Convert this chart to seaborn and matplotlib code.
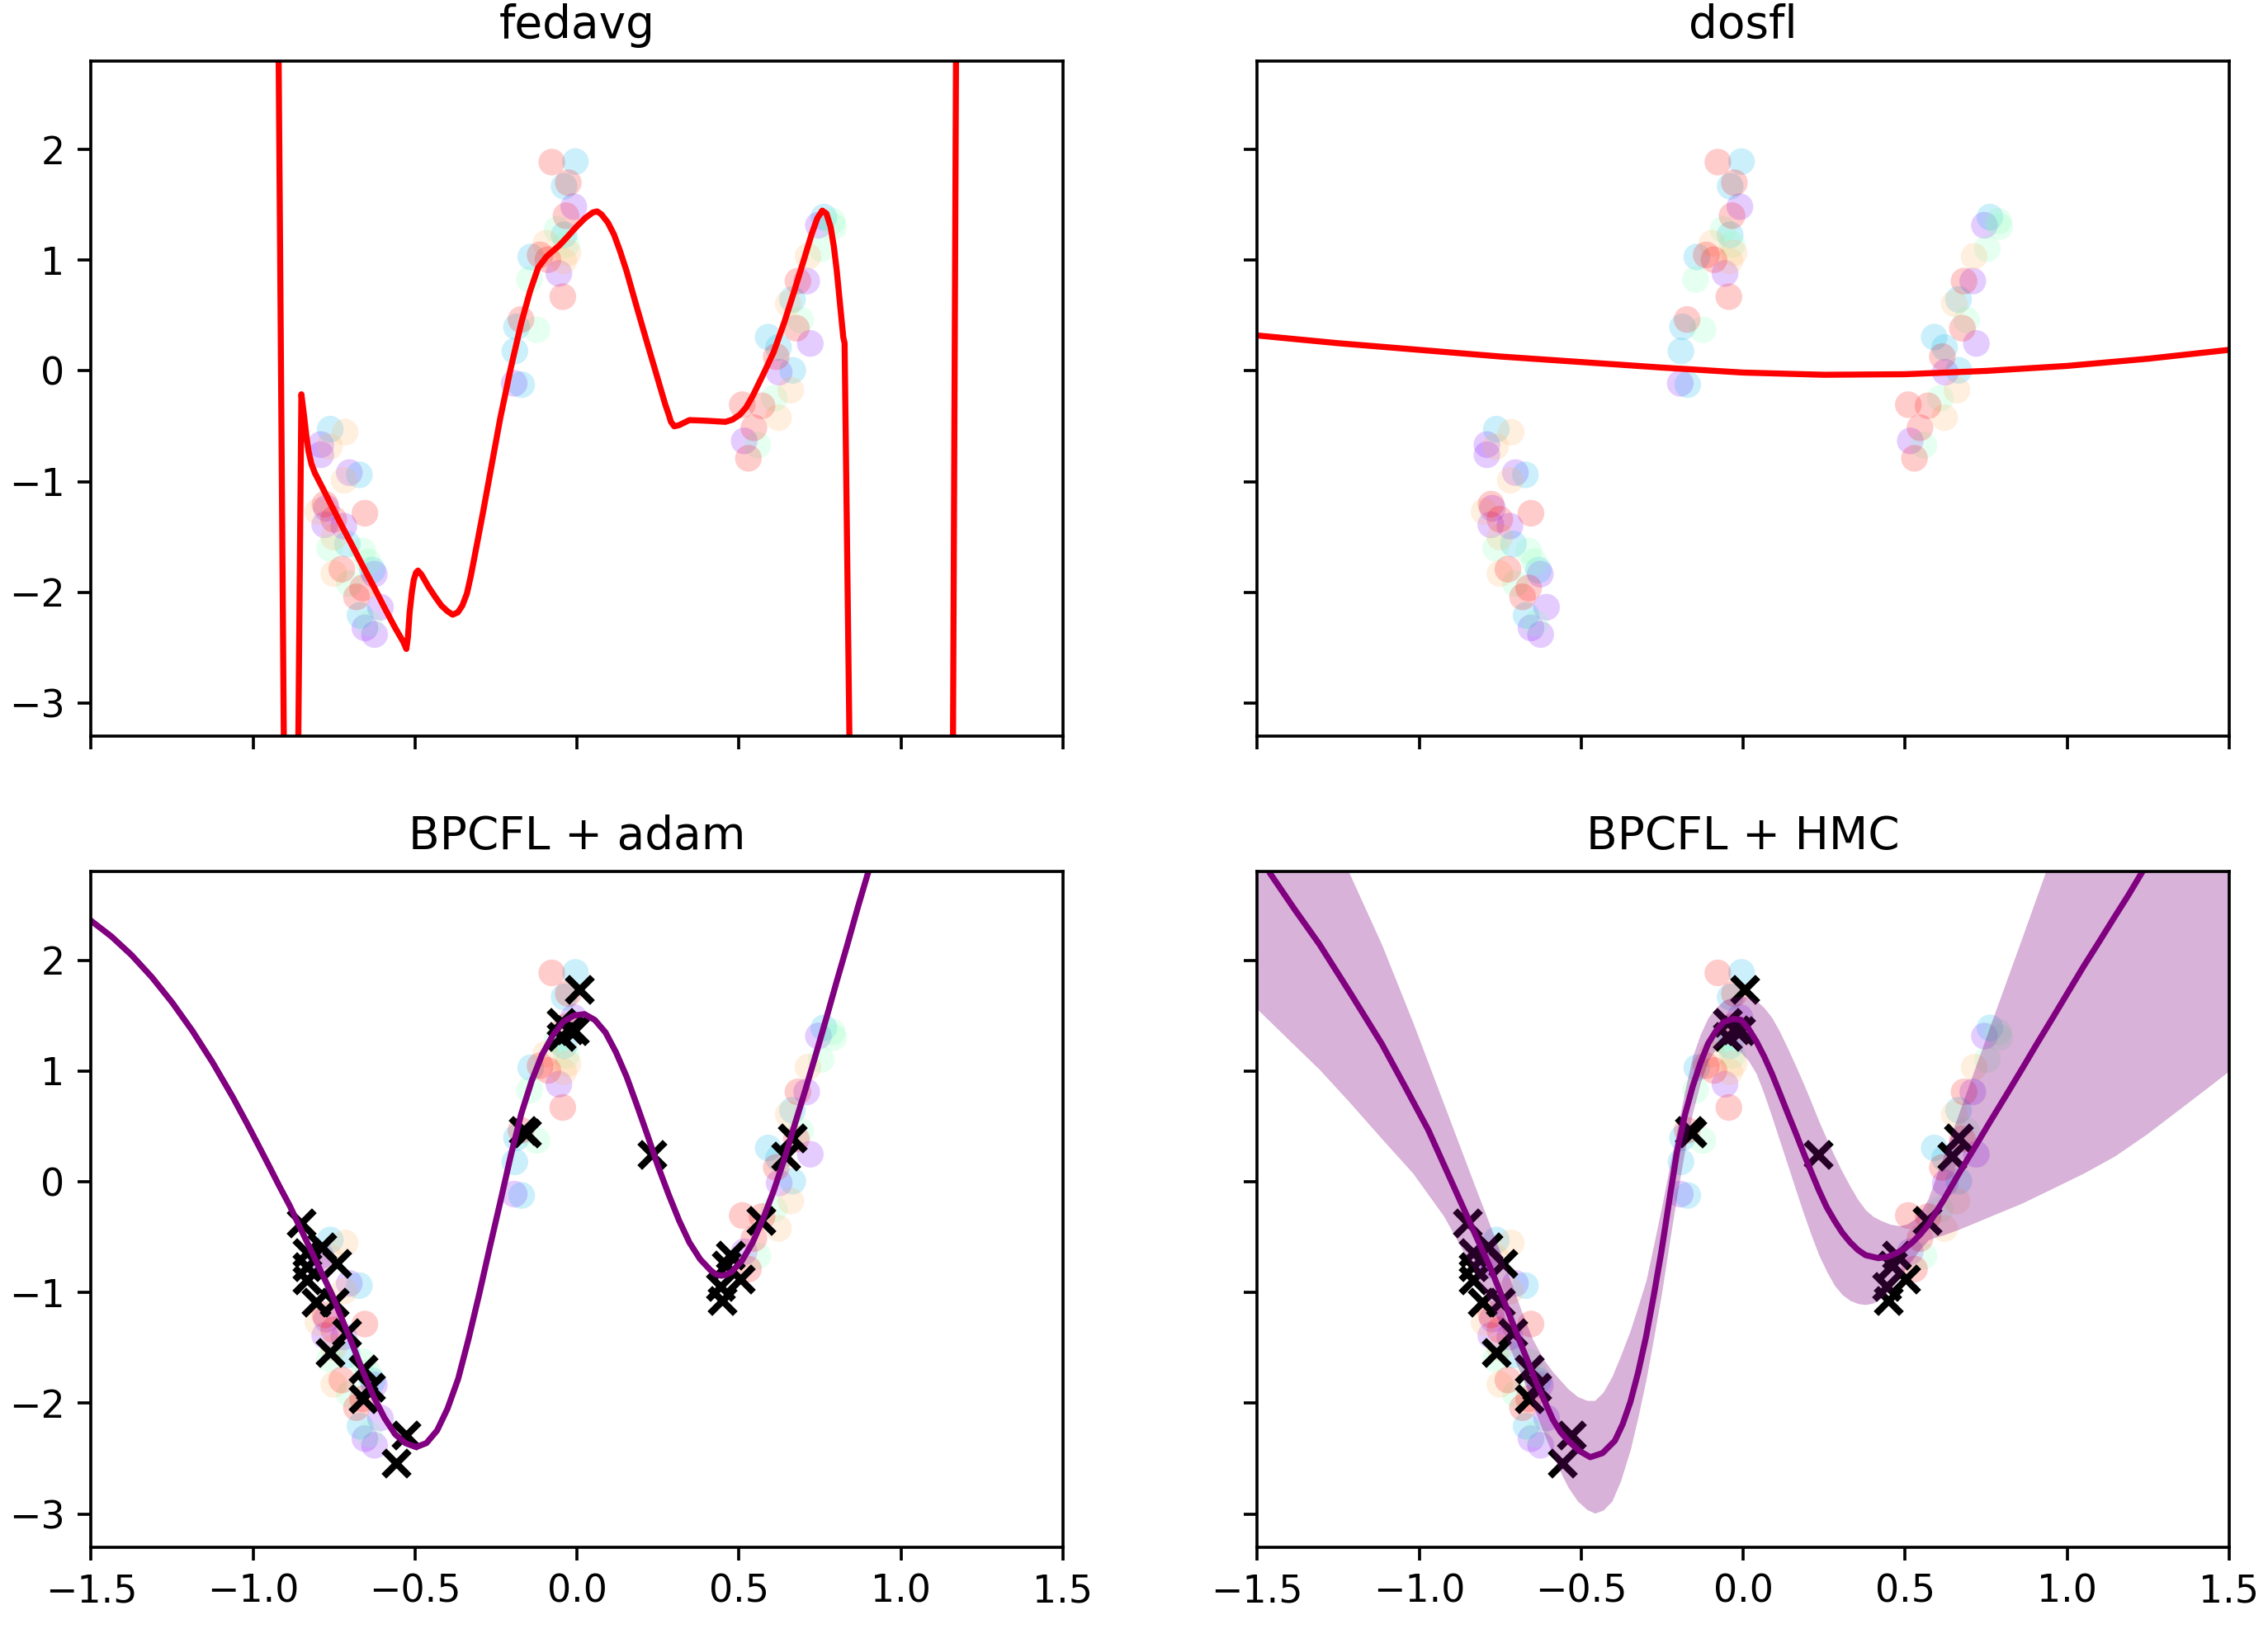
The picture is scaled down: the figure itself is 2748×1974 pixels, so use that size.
import numpy as np
import pandas as pd
import matplotlib
matplotlib.use("Agg")
import matplotlib.pyplot as plt
import seaborn as sns

# client data (5 clients, rainbow colours)
c0_x = [-0.791, -0.791, -0.703, -0.774, -0.779, -0.720, -0.626, -0.607, -0.655, -0.625,
        -0.010, -0.056, -0.194, 0.745, 0.709, 0.720, 0.624, 0.516]
c0_y = [-0.665, -0.757, -0.918, -1.240, -1.389, -1.401, -1.835, -2.133, -2.320, -2.380,
        1.483, 0.880, -0.112, 1.315, 0.811, 0.248, -0.012, -0.632]
c1_x = [-0.762, -0.672, -0.709, -0.632, -0.670, -0.005, -0.040, -0.040, -0.143, -0.187,
        -0.192, -0.171, 0.762, 0.665, 0.590, 0.622, 0.666]
c1_y = [-0.526, -0.938, -1.563, -1.798, -2.207, 1.890, 1.667, 1.228, 1.029, 0.397,
        0.179, -0.124, 1.389, 0.645, 0.305, 0.211, 0.005]
c2_x = [-0.764, -0.662, -0.645, -0.703, -0.641, -0.062, -0.033, -0.147, -0.124,
        0.788, 0.792, 0.754, 0.690, 0.609, 0.558]
c2_y = [-1.600, -1.625, -1.724, -1.920, -2.280, 1.277, 1.141, 0.826, 0.372,
        1.352, 1.302, 1.104, 0.459, -0.248, -0.670]
c3_x = [-0.716, -0.764, -0.719, -0.800, -0.751, -0.751, -0.096, -0.028, -0.041,
        0.713, 0.652, 0.660, 0.622]
c3_y = [-0.553, -0.682, -0.987, -1.270, -1.500, -1.830, 1.153, 1.066, 0.992,
        1.034, 0.608, -0.174, -0.422]
c4_x = [-0.778, -0.655, -0.751, -0.726, -0.662, -0.681, -0.078, -0.027, -0.034, -0.114,
        -0.090, -0.044, -0.173, 0.682, 0.677, 0.615, 0.510, 0.571, 0.546, 0.529]
c4_y = [-1.203, -1.285, -1.339, -1.790, -1.960, -2.040, 1.885, 1.699, 1.401, 1.047,
        1.004, 0.670, 0.464, 0.811, 0.385, 0.129, -0.305, -0.315, -0.513, -0.789]

# server / test points (black crosses)
xs_x = [-0.852, -0.788, -0.834, -0.741, -0.834, -0.834, -0.805, -0.750, -0.711, -0.762,
        -0.660, -0.637, -0.660, -0.529, -0.559, -0.157, -0.165, 0.006, -0.049, -0.024,
        -0.007, -0.049, 0.231, 0.664, 0.645, 0.569, 0.473, 0.460, 0.503, 0.443, 0.448]
xs_y = [-0.374, -0.590, -0.640, -0.739, -0.764, -0.888, -1.087, -1.087, -1.360, -1.546,
        -1.695, -1.857, -1.963, -2.291, -2.540, 0.441, 0.460, 1.738, 1.434, 1.372,
        1.360, 1.310, 0.247, 0.391, 0.230, -0.354, -0.665, -0.751, -0.876, -0.950, -1.074]

# fedavg prediction
fedavg_x = [-1.5, -1.2, -0.95, -0.923, -0.904, -0.883, -0.862, -0.851, -0.846, -0.842,
            -0.836, -0.829, -0.820, -0.809, -0.785, -0.757, -0.725, -0.692, -0.660, -0.627,
            -0.595, -0.562, -0.536, -0.527, -0.522, -0.517, -0.510, -0.504, -0.497, -0.491,
            -0.480, -0.458, -0.438, -0.419, -0.400, -0.384, -0.368, -0.354, -0.340, -0.328,
            -0.310, -0.289, -0.263, -0.237, -0.205, -0.172, -0.145, -0.120, -0.094, -0.055,
            -0.030, -0.003, 0.025, 0.049, 0.062, 0.075, 0.095, 0.114, 0.133, 0.153,
            0.185, 0.218, 0.250, 0.272, 0.283, 0.290, 0.300, 0.315, 0.347, 0.400,
            0.458, 0.480, 0.503, 0.522, 0.542, 0.575, 0.607, 0.640, 0.672, 0.700,
            0.724, 0.742, 0.757, 0.770, 0.783, 0.793, 0.802, 0.812, 0.822, 0.826,
            0.843, 1.0, 1.160, 1.171, 1.3, 1.5]
fedavg_y = [30, 15, 6, 3.5, -3.8, -8, -3.8, -0.211, -0.33, -0.426,
            -0.58, -0.725, -0.84, -0.924, -1.06, -1.223, -1.405, -1.588, -1.77, -1.952,
            -2.135, -2.317, -2.449, -2.51, -2.40, -2.184, -2.0, -1.886, -1.82, -1.803,
            -1.84, -1.952, -2.04, -2.118, -2.17, -2.201, -2.18, -2.118, -2.01, -1.853,
            -1.58, -1.256, -0.84, -0.426, 0.02, 0.436, 0.72, 0.933, 1.033, 1.132,
            1.21, 1.298, 1.38, 1.431, 1.44, 1.414, 1.34, 1.232, 1.08, 0.900,
            0.57, 0.237, -0.08, -0.30, -0.394, -0.46, -0.50, -0.49, -0.444, -0.45,
            -0.460, -0.44, -0.394, -0.33, -0.228, -0.03, 0.170, 0.44, 0.734, 1.0,
            1.232, 1.38, 1.447, 1.42, 1.298, 1.12, 0.900, 0.60, 0.303, 0.25,
            -3.8, -20, -3.8, 3.5, 20, 40]

# dosfl prediction
dosfl_x = [-1.5, -1.25, -1.0, -0.75, -0.5, -0.25, 0.0, 0.25, 0.5, 0.75, 1.0, 1.25, 1.5]
dosfl_y = [0.32, 0.25, 0.19, 0.13, 0.08, 0.03, -0.015, -0.035, -0.03, 0.0, 0.045, 0.11, 0.19]

# BPCFL + adam prediction
adam_x = [-1.5, -1.4375, -1.375, -1.3125, -1.25, -1.1875, -1.125, -1.0625, -1.017, -0.984,
          -0.952, -0.920, -0.887, -0.855, -0.822, -0.790, -0.757, -0.725, -0.692, -0.660,
          -0.627, -0.595, -0.562, -0.530, -0.497, -0.465, -0.432, -0.400, -0.367, -0.335,
          -0.302, -0.270, -0.237, -0.205, -0.172, -0.140, -0.108, -0.075, -0.042, -0.010,
          0.023, 0.055, 0.088, 0.120, 0.153, 0.185, 0.218, 0.250, 0.283, 0.315,
          0.347, 0.380, 0.412, 0.428, 0.445, 0.460, 0.477, 0.510, 0.542, 0.575,
          0.607, 0.640, 0.672, 0.705, 0.737, 0.770, 0.802, 0.835, 0.867, 0.950]
adam_y = [2.355, 2.214, 2.045, 1.846, 1.618, 1.362, 1.076, 0.762, 0.515, 0.33,
          0.149, -0.035, -0.217, -0.415, -0.616, -0.815, -1.015, -1.245, -1.481, -1.72,
          -1.946, -2.13, -2.279, -2.36, -2.396, -2.36, -2.246, -2.05, -1.780, -1.42,
          -1.015, -0.60, -0.183, 0.23, 0.615, 0.91, 1.147, 1.32, 1.446, 1.50,
          1.513, 1.46, 1.347, 1.17, 0.948, 0.69, 0.415, 0.14, -0.117, -0.35,
          -0.549, -0.70, -0.799, -0.835, -0.849, -0.84, -0.815, -0.71, -0.549, -0.33,
          -0.083, 0.205, 0.515, 0.83, 1.147, 1.48, 1.812, 2.145, 2.478, 3.3]

# BPCFL + HMC posterior mean
hmc_x = [-1.5, -1.461, -1.385, -1.308, -1.212, -1.116, -1.044, -0.972, -0.924, -0.876,
         -0.828, -0.780, -0.732, -0.684, -0.636, -0.588, -0.564, -0.540, -0.506, -0.472,
         -0.434, -0.396, -0.372, -0.348, -0.324, -0.300, -0.276, -0.252, -0.228, -0.204,
         -0.180, -0.156, -0.132, -0.108, -0.084, -0.060, -0.031, -0.007, 0.017, 0.041,
         0.065, 0.089, 0.113, 0.137, 0.161, 0.185, 0.210, 0.234, 0.258, 0.282,
         0.306, 0.330, 0.354, 0.378, 0.417, 0.445, 0.474, 0.500, 0.523, 0.547,
         0.571, 0.620, 0.667, 0.715, 0.763, 0.812, 0.860, 0.908, 0.956, 1.004,
         1.052, 1.100, 1.148, 1.190, 1.230, 1.300]
hmc_y = [3.05, 2.786, 2.46, 2.143, 1.70, 1.247, 0.86, 0.467, 0.155, -0.157,
         -0.47, -0.780, -1.125, -1.482, -1.83, -2.144, -2.26, -2.339, -2.43, -2.487,
         -2.45, -2.339, -2.19, -1.988, -1.72, -1.404, -1.03, -0.625, -0.17, 0.272,
         0.60, 0.857, 1.07, 1.247, 1.36, 1.442, 1.47, 1.461, 1.38, 1.266,
         1.13, 0.974, 0.80, 0.623, 0.45, 0.272, 0.09, -0.078, -0.23, -0.351,
         -0.46, -0.546, -0.615, -0.663, -0.690, -0.68, -0.644, -0.60, -0.546, -0.475,
         -0.390, -0.16, 0.078, 0.31, 0.545, 0.78, 1.013, 1.25, 1.481, 1.715,
         1.948, 2.17, 2.396, 2.59, 2.786, 3.12]

# BPCFL + HMC uncertainty band
band_x = [-1.5, -1.404, -1.308, -1.216, -1.116, -1.020, -0.924, -0.828, -0.751, -0.684,
          -0.650, -0.617, -0.588, -0.559, -0.540, -0.511, -0.482, -0.458, -0.432, -0.405,
          -0.378, -0.348, -0.324, -0.300, -0.276, -0.252, -0.228, -0.204, -0.180, -0.156,
          -0.132, -0.108, -0.084, -0.060, -0.034, -0.007, 0.017, 0.041, 0.065, 0.089,
          0.113, 0.137, 0.161, 0.185, 0.210, 0.234, 0.258, 0.282, 0.306, 0.330,
          0.354, 0.378, 0.402, 0.426, 0.455, 0.484, 0.508, 0.532, 0.552, 0.571,
          0.595, 0.619, 0.667, 0.763, 0.860, 0.956, 1.052, 1.148, 1.245, 1.341,
          1.437, 1.5]
band_hi = [4.6, 3.95, 3.35, 2.786, 2.143, 1.442, 0.701, -0.040, -0.625, -1.17,
           -1.42, -1.60, -1.715, -1.81, -1.871, -1.94, -1.975, -1.975, -1.90, -1.76,
           -1.57, -1.34, -1.12, -0.897, -0.57, -0.235, 0.12, 0.467, 0.82, 1.130,
           1.33, 1.481, 1.57, 1.636, 1.665, 1.675, 1.665, 1.636, 1.57, 1.481,
           1.355, 1.208, 1.055, 0.896, 0.72, 0.545, 0.385, 0.233, 0.09, -0.040,
           -0.16, -0.254, -0.315, -0.351, -0.385, -0.398, -0.38, -0.332, -0.25, -0.156,
           0.04, 0.236, 0.627, 1.411, 2.194, 2.98, 3.8, 4.6, 5.4, 6.2,
           7.0, 7.5]
band_lo = [1.558, 1.285, 1.013, 0.72, 0.389, 0.078, -0.312, -0.819, -1.287, -1.754,
           -2.01, -2.261, -2.46, -2.650, -2.76, -2.884, -2.96, -2.993, -2.965, -2.884,
           -2.70, -2.417, -2.12, -1.793, -1.41, -1.014, -0.56, -0.118, 0.28, 0.623,
           0.89, 1.091, 1.20, 1.247, 1.235, 1.168, 1.09, 0.974, 0.79, 0.584,
           0.37, 0.156, -0.06, -0.273, -0.48, -0.663, -0.81, -0.936, -1.02, -1.072,
           -1.10, -1.11, -1.095, -1.053, -0.975, -0.86, -0.76, -0.665, -0.59, -0.527,
           -0.50, -0.48, -0.429, -0.312, -0.195, -0.059, 0.078, 0.233, 0.428, 0.642,
           0.857, 1.0]

titles = ["fedavg", "dosfl", "BPCFL + adam", "BPCFL + HMC"]

clients = pd.concat([
    pd.DataFrame({"x": cx, "y": cy, "client": i})
    for i, (cx, cy) in enumerate([(c0_x, c0_y), (c1_x, c1_y), (c2_x, c2_y),
                                  (c3_x, c3_y), (c4_x, c4_y)])
])
palette = [plt.get_cmap("rainbow")(v) for v in np.linspace(0, 1, 5)]

dpi = 330
fig, axes = plt.subplots(2, 2, sharex=True, sharey=True,
                         figsize=(2748 / dpi, 1974 / dpi), dpi=dpi)
fig.subplots_adjust(left=0.0402, right=0.9828, bottom=0.0502, top=0.9627,
                    wspace=0.2, hspace=0.2)

for i, ax in enumerate(axes.flat):
    sns.scatterplot(data=clients, x="x", y="y", hue="client", palette=palette,
                    s=50, alpha=0.2, linewidth=0, legend=False, ax=ax)
    if i >= 2:
        sns.scatterplot(x=xs_x, y=xs_y, marker="x", color="k", s=45,
                        linewidth=1.8, ax=ax)
    ax.set_title(titles[i], fontsize=12)
    ax.set_xlabel("")
    ax.set_ylabel("")

sns.lineplot(x=fedavg_x, y=fedavg_y, color="red", linewidth=1.6,
             sort=False, estimator=None, ax=axes[0, 0])
sns.lineplot(x=dosfl_x, y=dosfl_y, color="red", linewidth=1.6,
             sort=False, estimator=None, ax=axes[0, 1])
sns.lineplot(x=adam_x, y=adam_y, color="purple", linewidth=1.6,
             sort=False, estimator=None, ax=axes[1, 0])
sns.lineplot(x=hmc_x, y=hmc_y, color="purple", linewidth=1.6,
             sort=False, estimator=None, ax=axes[1, 1])
axes[1, 1].fill_between(band_x, band_lo, band_hi, color="purple", alpha=0.3, linewidth=0)

for ax in axes.flat:
    ax.set_xlim(-1.5, 1.5)
    ax.set_ylim(-3.3, 2.8)
    ax.set_xticks(np.arange(-1.5, 1.51, 0.5))
    ax.set_yticks([-3, -2, -1, 0, 1, 2])

fig.savefig("out.png", dpi=dpi)
